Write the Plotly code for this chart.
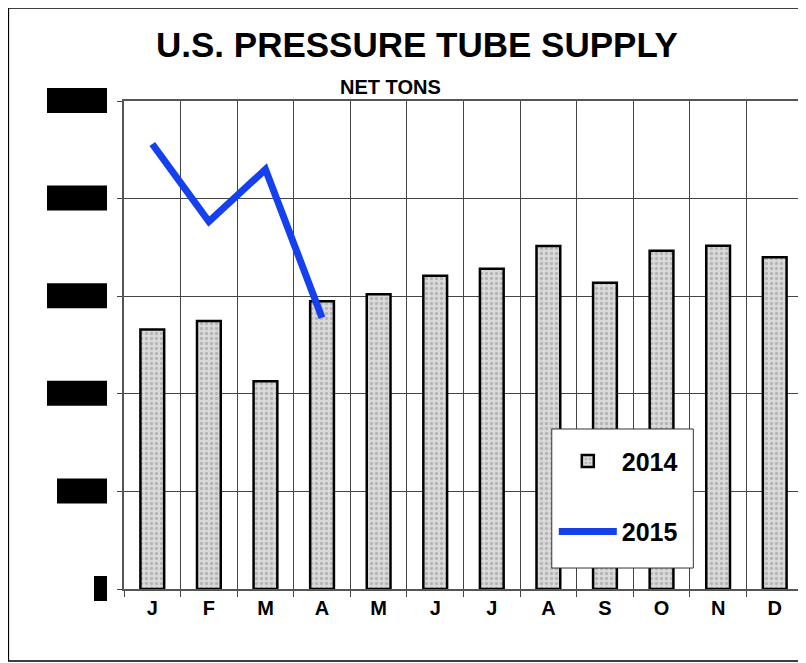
import plotly.graph_objects as go

months = ["Jan", "Feb", "Mar", "Apr", "May", "Jun", "Jul", "Aug", "Sep", "Oct", "Nov", "Dec"]
month_labels = ["J", "F", "M", "A", "M", "J", "J", "A", "S", "O", "N", "D"]
tons_2014 = [13300, 13730, 10640, 14740, 15100, 16050, 16410, 17570, 15690, 17330, 17590, 16990]
months_2015 = ["Jan", "Feb", "Mar", "Apr"]
tons_2015 = [22800, 18820, 21500, 13900]
y_ticks = [0, 5000, 10000, 15000, 20000, 25000]
y_tick_labels = ["0", "5,000", "10,000", "15,000", "20,000", "25,000"]
y_min, y_max = 0, 25000

FONT = "Liberation Sans, Arial, sans-serif"

fig = go.Figure()
fig.add_trace(go.Bar(
    x=months, y=tons_2014, name="2014", width=0.42, legendgroup="a",
    marker=dict(
        color="#d6d6d6",
        line=dict(color="black", width=2.5),
        pattern=dict(shape=".", fgcolor="#8f8f8f", bgcolor="#dadada", size=5, solidity=0.35),
    ),
))
fig.add_trace(go.Scatter(
    x=months_2015, y=tons_2015, name="2015", mode="lines", legendgroup="b",
    line=dict(color="#1540f0", width=7),
))

shapes = []
# redaction boxes over the y-axis labels (labels are blacked out in the reference)
for v, lab in zip(y_ticks, y_tick_labels):
    w = 10 * len(lab) + (3 if len(lab) == 1 else 0)
    shapes.append(dict(
        type="rect", xref="paper", yref="paper",
        xsizemode="pixel", xanchor=0, x0=-17 - w, x1=-17,
        ysizemode="pixel", yanchor=(v - y_min) / (y_max - y_min), y0=-12, y1=13,
        fillcolor="black", line=dict(width=0),
    ))
# outer frame
shapes.append(dict(
    type="rect", xref="paper", yref="paper",
    x0=-0.1703, x1=1.02, y0=-0.1475, y1=1.1906,
    line=dict(color="black", width=1.5), fillcolor="rgba(0,0,0,0)",
))
# legend box
shapes.append(dict(
    type="rect", xref="paper", yref="paper", layer="above",
    x0=0.630, x1=0.8385, y0=0.043, y1=0.3279,
    line=dict(color="#333", width=1), fillcolor="white",
))

fig.update_layout(
    width=798, height=655,
    margin=dict(l=116, r=1, t=93, b=74),
    paper_bgcolor="white", plot_bgcolor="white",
    font=dict(family=FONT, color="black"),
    showlegend=True,
    legend=dict(
        x=0.633, y=0.309, xanchor="left", yanchor="top",
        bgcolor="rgba(0,0,0,0)", borderwidth=0,
        font=dict(size=25, family=FONT, color="black", weight="bold"),
        itemwidth=58, tracegroupgap=35, traceorder="grouped",
    ),
    shapes=shapes,
    annotations=[
        dict(text="<b>U.S. PRESSURE TUBE SUPPLY</b>", xref="paper", yref="paper",
             x=0.432, y=1.1156, xanchor="center", yanchor="middle", showarrow=False,
             font=dict(size=35, family=FONT, color="black")),
        dict(text="<b>NET TONS</b>", xref="paper", yref="paper",
             x=0.3928, y=1.0297, xanchor="center", yanchor="middle", showarrow=False,
             font=dict(size=20, family=FONT, color="black")),
    ],
)
fig.update_xaxes(
    type="category", categoryorder="array", categoryarray=months,
    tickmode="array", tickvals=months, ticktext=month_labels,
    tickson="boundaries", ticks="outside", ticklen=6, tickcolor="#444",
    showgrid=True, gridcolor="#444", gridwidth=1,
    showline=True, linecolor="#555", linewidth=1.5, mirror=True,
    tickfont=dict(size=20, weight="bold"),
    range=[-0.5, 11.5],
)
fig.update_yaxes(
    range=[y_min, y_max], tickmode="array", tickvals=y_ticks, ticktext=y_tick_labels,
    showticklabels=False, ticks="outside", ticklen=5, tickcolor="#444",
    showgrid=True, gridcolor="#444", gridwidth=1,
    showline=True, linecolor="#555", linewidth=1.5, mirror=True,
    zeroline=False,
)

fig.write_html("out.html")
